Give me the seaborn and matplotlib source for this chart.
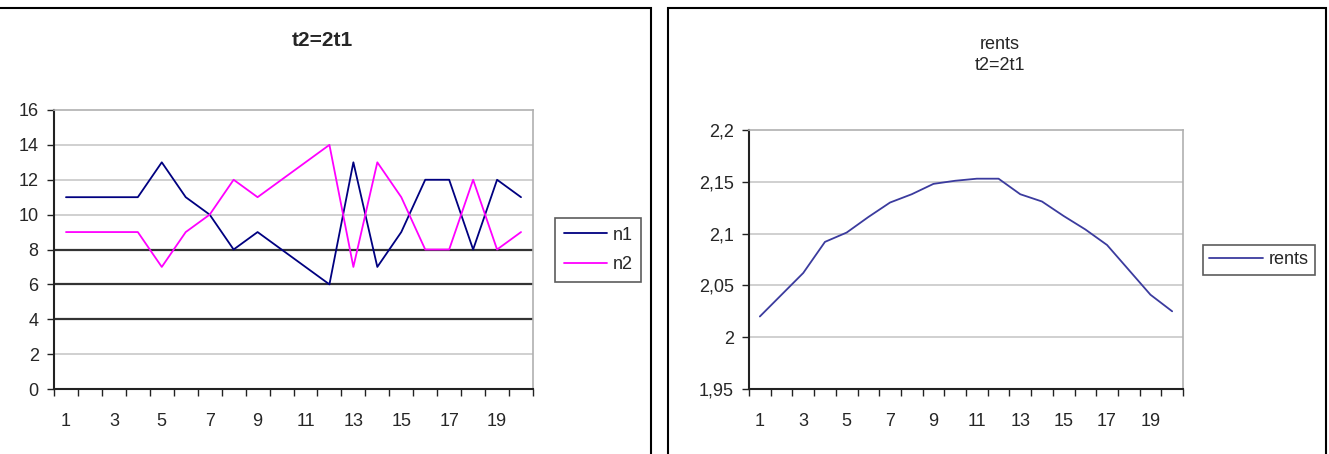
import numpy as np
import pandas as pd
import matplotlib
matplotlib.use("Agg")
import matplotlib.pyplot as plt
import seaborn as sns
from matplotlib.patches import Rectangle
from matplotlib.ticker import FuncFormatter, FixedLocator

# data
steps = list(range(1, 21))
n1 = [11, 11, 11, 11, 13, 11, 10, 8, 9, 8, 7, 6, 13, 7, 9, 12, 12, 8, 12, 11]
n2 = [9, 9, 9, 9, 7, 9, 10, 12, 11, 12, 13, 14, 7, 13, 11, 8, 8, 12, 8, 9]
rents = [2.020, 2.041, 2.062, 2.092, 2.101, 2.116, 2.130, 2.138, 2.148, 2.151,
         2.153, 2.153, 2.138, 2.131, 2.117, 2.104, 2.089, 2.065, 2.041, 2.025]
left_title = "t2=2t1"
right_title = "rents\nt2=2t1"

sns.set_style("white")
plt.rcParams['font.family'] = ['Liberation Sans', 'DejaVu Sans']

W, H = 1329, 454
fig = plt.figure(figsize=(W / 100, H / 100), dpi=100)


def px_axes(x0, y0, x1, y1):
    return fig.add_axes([x0 / W, 1 - y1 / H, (x1 - x0) / W, (y1 - y0) / H])


# panel frames
for x0, x1 in [(-5, 651), (668, 1326)]:
    fig.patches.append(Rectangle((x0 / W, -0.05), (x1 - x0) / W, 1.05 - 8 / H,
                                 transform=fig.transFigure, fill=False,
                                 edgecolor='black', lw=1.5))


def style_axes(ax):
    ax.set_xlim(0.5, 20.5)
    ax.xaxis.set_major_locator(FixedLocator(np.arange(0.5, 21, 1)))
    ax.set_xticklabels([])
    ax.xaxis.set_minor_locator(FixedLocator(steps[::2]))
    ax.set_xticklabels([str(s) for s in steps[::2]], minor=True)
    ax.tick_params(axis='x', which='major', length=5, width=1, color='#222222',
                   direction='out', bottom=True)
    ax.tick_params(axis='x', which='minor', length=0, labelsize=13, pad=17)
    ax.tick_params(axis='y', length=5, width=1, color='#222222', direction='out',
                   left=True, labelsize=13, pad=6)
    for s in ['left', 'bottom']:
        ax.spines[s].set_color('#222222')
        ax.spines[s].set_linewidth(1.5)
    for s in ['top', 'right']:
        ax.spines[s].set_color('#b0b0b0')
        ax.spines[s].set_linewidth(1.2)
    ax.set_xlabel('')
    ax.set_ylabel('')


# left chart
df_left = pd.DataFrame({'step': steps * 2, 'value': n1 + n2,
                        'series': ['n1'] * 20 + ['n2'] * 20})
ax1 = px_axes(54, 110, 533, 389)
for v in [2, 10, 12, 14]:
    ax1.axhline(v, color='#c8c8c8', lw=1.2, zorder=0)
for v in [4, 6, 8]:
    ax1.axhline(v, color='#333333', lw=1.6, zorder=0)
sns.lineplot(data=df_left, x='step', y='value', hue='series',
             palette={'n1': '#000080', 'n2': '#ff00ff'}, lw=1.3, ax=ax1,
             legend=False)
ax1.set_ylim(0, 16)
ax1.set_yticks(range(0, 17, 2))
style_axes(ax1)
fig.text(322 / W, 1 - 40 / H, left_title, ha='center', va='center',
         fontsize=15, fontweight='bold')
h1 = [plt.Line2D([], [], color='#000080', lw=1.3),
      plt.Line2D([], [], color='#ff00ff', lw=1.3)]
leg1 = ax1.legend(h1, ['n1', 'n2'], loc='center', fontsize=13,
                  bbox_to_anchor=(598 / W, 1 - 250 / H), bbox_transform=fig.transFigure,
                  frameon=True, fancybox=False, edgecolor='#333333', handlelength=2.4,
                  labelspacing=0.7, borderpad=0.5, handletextpad=0.3)
leg1.get_frame().set_linewidth(1.2)

# right chart
df_right = pd.DataFrame({'step': steps, 'rents': rents})
ax2 = px_axes(749, 130, 1183, 389)
for v in [2.0, 2.05, 2.1, 2.15]:
    ax2.axhline(v, color='#c8c8c8', lw=1.2, zorder=0)
sns.lineplot(data=df_right, x='step', y='rents', color='#3b3b9e', lw=1.3, ax=ax2)
ax2.set_ylim(1.95, 2.2)
ax2.set_yticks([1.95, 2.0, 2.05, 2.1, 2.15, 2.2])
ax2.yaxis.set_major_formatter(FuncFormatter(lambda v, p: f"{v:g}".replace('.', ',')))
style_axes(ax2)
fig.text(1000 / W, 1 - 55 / H, right_title, ha='center', va='center',
         fontsize=13, linespacing=1.35)
h2 = [plt.Line2D([], [], color='#3b3b9e', lw=1.3)]
leg2 = ax2.legend(h2, ['rents'], loc='center', fontsize=13,
                  bbox_to_anchor=(1259 / W, 1 - 260 / H), bbox_transform=fig.transFigure,
                  frameon=True, fancybox=False, edgecolor='#333333', handlelength=3.0,
                  borderpad=0.35, handletextpad=0.3)
leg2.get_frame().set_linewidth(1.2)

fig.savefig('out.png', dpi=100)
